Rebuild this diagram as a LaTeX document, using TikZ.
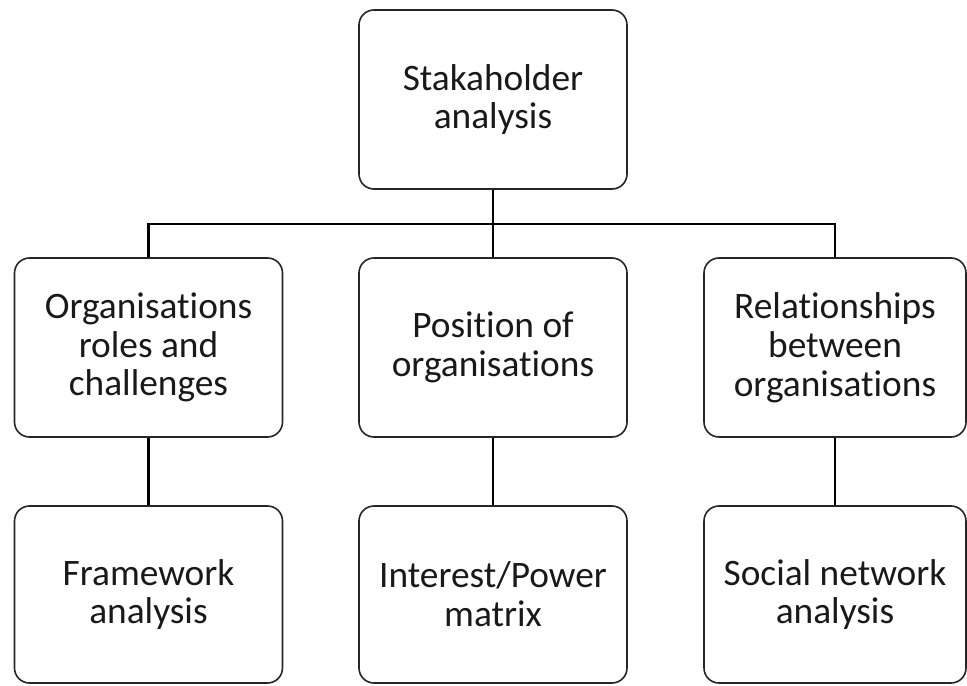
\documentclass[tikz,border=0pt]{standalone}
\usepackage{fontspec}
\setmainfont[Ligatures={NoCommon,TeX}]{Carlito}
\begin{document}
\begin{tikzpicture}[x=1bp,y=-1bp,
  box/.style={draw=black!85, line width=1.6bp, rounded corners=15bp,
    minimum width=268bp, minimum height=179bp, align=center,
    inner sep=0pt, font=\fontsize{37.5}{39}\selectfont, text=black!90},
  link/.style={draw=black, line width=2.6bp}]
  \useasboundingbox (0,0) rectangle (967,686);
  % root
  \node[box] (top) at (493,99.5) {Stakaholder\\analysis};
  % second level
  \node[box] (lm) at (148.5,347.5) {Organisations\\roles and\\challenges};
  \node[box] (mm) at (493,347.5) {Position of\\organisations};
  \node[box, minimum width=262bp] (rm) at (835,347.5) {Relationships\\between\\organisations};
  % third level
  \node[box, minimum height=177bp] (lb) at (148.5,594.5) {Framework\\analysis};
  \node[box, minimum height=177bp] (mb) at (493,594.5) {Interest/Power\\matrix};
  \node[box, minimum height=177bp, minimum width=262bp] (rb) at (835,594.5) {Social network\\analysis};
  % connectors
  \coordinate (bus) at (0,224);
  \draw[link] (top.south) -- (top.south |- bus);
  \draw[link] (lm.north) |- (rm.north |- bus) -- (rm.north);
  \draw[link] (mm.north) -- (mm.north |- bus);
  \draw[link] (lm.south) -- (lb.north);
  \draw[link] (mm.south) -- (mb.north);
  \draw[link] (rm.south) -- (rb.north);
\end{tikzpicture}
\end{document}
